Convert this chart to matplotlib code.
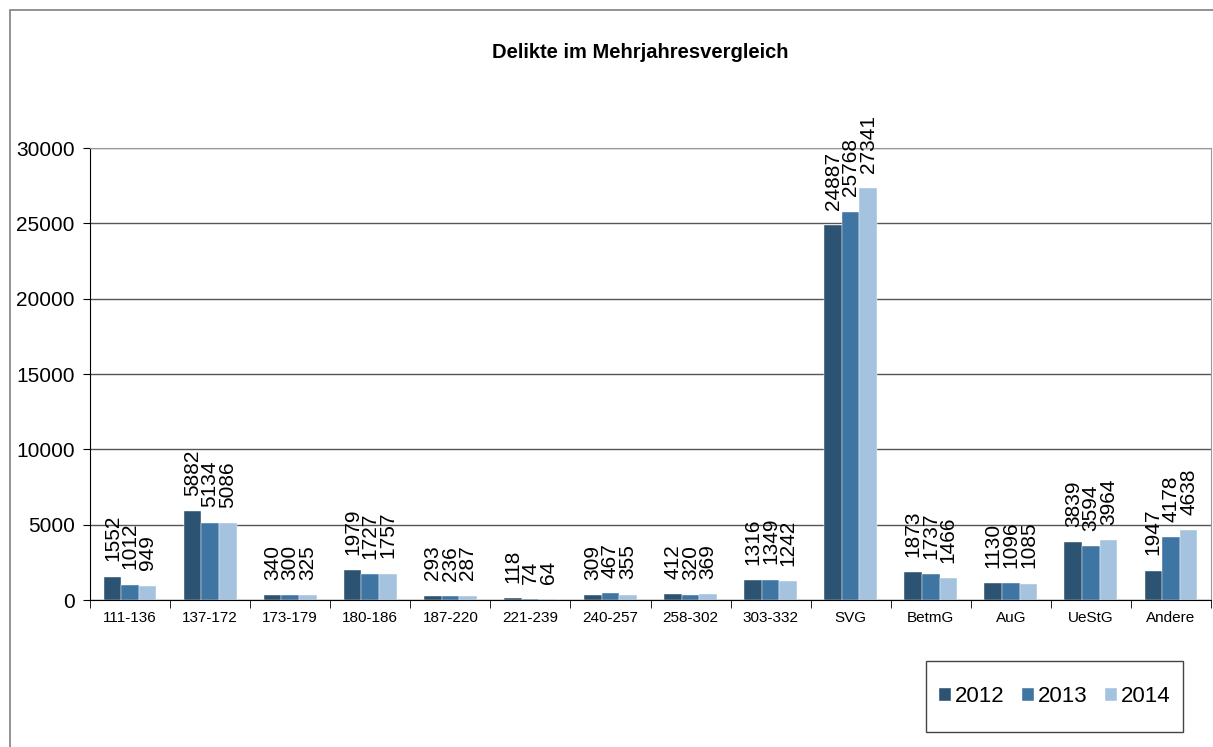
import numpy as np
import matplotlib.pyplot as plt
from matplotlib.patches import Rectangle

categories = ["111-136", "137-172", "173-179", "180-186", "187-220", "221-239", "240-257",
              "258-302", "303-332", "SVG", "BetmG", "AuG", "UeStG", "Andere"]
years = ["2012", "2013", "2014"]
v2012 = [1552, 5882, 340, 1979, 293, 118, 309, 412, 1316, 24887, 1873, 1130, 3839, 1947]
v2013 = [1012, 5134, 300, 1727, 236, 74, 467, 320, 1349, 25768, 1737, 1096, 3594, 4178]
v2014 = [949, 5086, 325, 1757, 287, 64, 355, 369, 1242, 27341, 1466, 1085, 3964, 4638]
colors = ["#2c5371", "#3f75a3", "#a5c3df"]

plt.rcParams['font.family'] = ['Liberation Sans', 'DejaVu Sans']

W, H = 1213, 747
fig = plt.figure(figsize=(W / 100, H / 100), dpi=100)
# outer chart frame (right and bottom edges lie outside the picture)
fig.patches.append(Rectangle((10 / W, -0.1), 1.2, 1 - 10 / H + 0.1, transform=fig.transFigure,
                             fill=False, edgecolor="#808080", linewidth=1.2))

ax = fig.add_axes([90 / W, 1 - 600 / H, (1211 - 90) / W, (600 - 148) / H])

x = np.arange(len(categories))
w = 0.22
for i, (vals, col, yr) in enumerate(zip([v2012, v2013, v2014], colors, years)):
    pos = x + (i - 1) * w
    ax.bar(pos, vals, width=w, color=col, label=yr, edgecolor="white", linewidth=0.3)
    for p, v in zip(pos, vals):
        ax.annotate(str(v), (p, v), xytext=(0, 11), textcoords="offset points",
                    ha="center", va="bottom", rotation=90, fontsize=15, annotation_clip=False)

ax.set_xlim(-0.5, len(categories) - 0.5)
ax.set_ylim(0, 30000)
ax.set_yticks(range(0, 30001, 5000))
ax.tick_params(axis="y", labelsize=15, length=5, direction="out", pad=6)
ax.set_xticks(x)
ax.set_xticklabels(categories, fontsize=11)
ax.tick_params(axis="x", length=0, pad=8)
ax.set_xticks(np.arange(-0.5, len(categories), 1), minor=True)
ax.tick_params(axis="x", which="minor", length=6, direction="out")
ax.yaxis.grid(True, color="#555555", linewidth=1)
ax.set_axisbelow(True)
for s in ["top", "right"]:
    ax.spines[s].set_color("#999999")
ax.spines["left"].set_color("black")
ax.spines["bottom"].set_color("black")

fig.text(640 / W, 1 - 53 / H, "Delikte im Mehrjahresvergleich", ha="center", va="center",
         fontsize=14.5, fontweight="bold")

# legend box drawn separately so its height matches the original
fig.patches.append(Rectangle((926 / W, 1 - 732 / H), (1183 - 926) / W, (732 - 661) / H,
                             transform=fig.transFigure, fill=False, edgecolor="#444444", linewidth=1))
fig.legend(loc="center", bbox_to_anchor=((926 + 1183) / 2 / W, 1 - 697 / H),
           ncol=3, fontsize=16, frameon=False, handlelength=0.55,
           handleheight=0.55, handletextpad=0.15, columnspacing=0.8,
           borderpad=0, borderaxespad=0)

fig.savefig("out.png", dpi=100)
